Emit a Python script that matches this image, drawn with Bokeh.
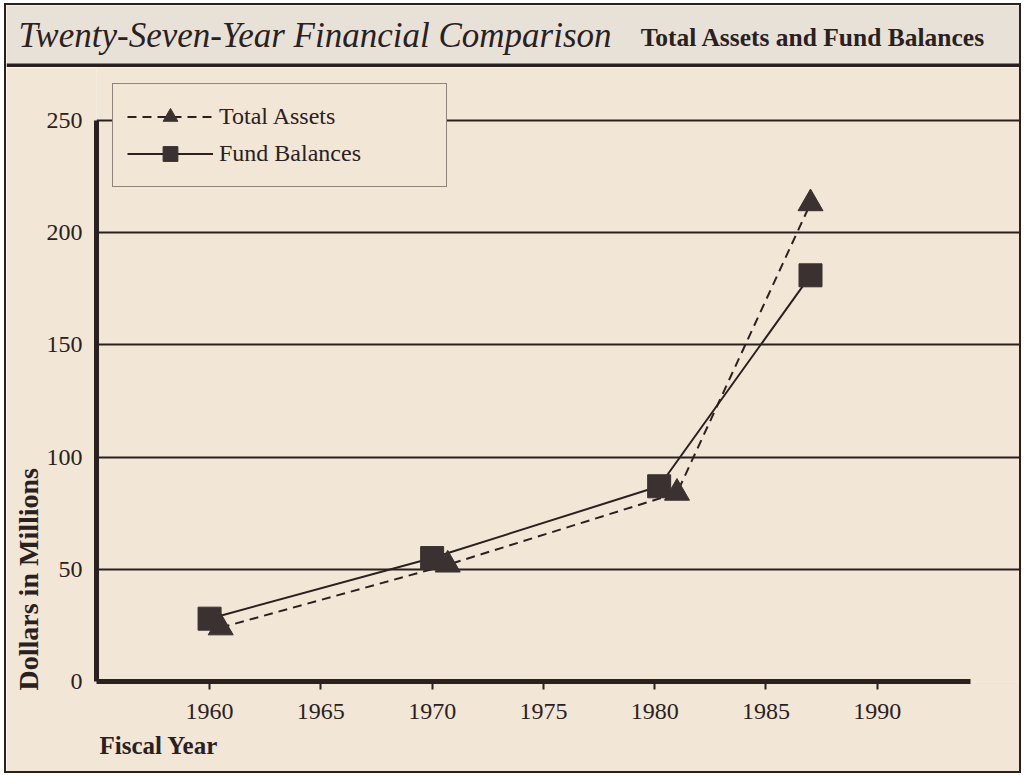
from bokeh.plotting import figure
from bokeh.layouts import column, row
from bokeh.models import Range1d, FixedTicker, Legend, LegendItem, BoxAnnotation, Label, Title
from bokeh.embed import file_html
from bokeh.resources import INLINE

# ---- data ----
years_fund = [1960, 1970, 1980.2, 1987]
fund_balances = [28, 55, 87, 181]
years_assets = [1960.5, 1970.7, 1981, 1987]
total_assets = [24, 52, 84, 213]
x_ticks = [1960, 1965, 1970, 1975, 1980, 1985, 1990]
y_ticks = [0, 50, 100, 150, 200, 250]
series_names = ["Total Assets", "Fund Balances"]
title_main = "Twenty-Seven-Year Financial Comparison"
title_sub = "Total Assets and Fund Balances"
x_label = "Fiscal Year"
y_label = "Dollars in Millions"

# ---- style ----
BG = "#f2e6d6"
BAND = "#e8e1d7"
INK = "#2a211f"
MARK = "#3a3130"
SERIF = "Liberation Serif"
W = 1013
TH = 62
H = 704

# ---- title band ----
tf = figure(width=W, height=TH, output_backend="svg", toolbar_location=None,
            x_range=Range1d(0, W), y_range=Range1d(0, TH),
            x_axis_type=None, y_axis_type=None,
            min_border_left=0, min_border_right=0, min_border_top=0, min_border_bottom=0,
            background_fill_color=BAND, border_fill_color=BAND)
tf.outline_line_color = None
tf.add_layout(BoxAnnotation(bottom=0, top=4, fill_color=INK, fill_alpha=1.0, line_color=None))
tf.add_layout(Label(x=12, y=32, text=title_main, text_font=SERIF, text_font_style="italic",
                    text_font_size="35px", text_color=INK, text_baseline="alphabetic",
                    text_align="left"))
tf.add_layout(Label(x=979, y=30, text=title_sub, text_font=SERIF, text_font_style="bold",
                    text_font_size="25.5px", text_color=INK, text_baseline="alphabetic",
                    text_align="right"))

# ---- main chart ----
p = figure(width=W, height=H, output_backend="svg", toolbar_location=None,
           x_range=Range1d(1954.92, 1996.39), y_range=Range1d(0, 273.6),
           min_border_left=90, min_border_right=0, min_border_top=0, min_border_bottom=90,
           background_fill_color=BG, border_fill_color=BG)
p.outline_line_color = None

xa = p.xaxis[0]
xa.ticker = FixedTicker(ticks=x_ticks)
xa.bounds = (1954.92, 1994.19)
xa.axis_line_color = INK
xa.axis_line_width = 5
xa.major_tick_out = 8
xa.major_tick_in = 0
xa.major_tick_line_color = INK
xa.major_tick_line_width = 2
xa.minor_tick_out = 0
xa.minor_tick_in = 0
xa.major_label_text_font = SERIF
xa.major_label_text_font_size = "24px"
xa.major_label_text_color = INK
xa.major_label_standoff = 14

ya = p.yaxis[0]
ya.ticker = FixedTicker(ticks=y_ticks)
ya.bounds = (0, 250)
ya.axis_line_color = INK
ya.axis_line_width = 5
ya.major_tick_out = 0
ya.major_tick_in = 0
ya.minor_tick_out = 0
ya.minor_tick_in = 0
ya.major_label_text_font = SERIF
ya.major_label_text_font_size = "24px"
ya.major_label_text_color = INK
ya.major_label_standoff = 14

# axis titles
p.add_layout(Title(text=x_label, align="left", offset=3, standoff=17,
                   text_font=SERIF, text_font_style="bold", text_font_size="25px",
                   text_color=INK), "below")
p.add_layout(Title(text=y_label, align="left", offset=-9, standoff=0,
                   text_font=SERIF, text_font_style="bold", text_font_size="28px",
                   text_color=INK), "left")

p.xgrid.grid_line_color = None
p.ygrid.ticker = FixedTicker(ticks=y_ticks)
p.ygrid.grid_line_color = INK
p.ygrid.grid_line_width = 1.8

# data marks
l_fund = p.line(years_fund, fund_balances, line_color=INK, line_width=2)
l_assets = p.line(years_assets, total_assets, line_color=INK, line_width=2, line_dash="9 6")
s_fund = p.scatter(years_fund, fund_balances, marker="square", size=23,
                   fill_color=MARK, line_color=MARK)
s_assets = p.scatter(years_assets, total_assets, marker="triangle", size=25,
                     fill_color=MARK, line_color=MARK)

legend = Legend(items=[LegendItem(label=series_names[0], renderers=[l_assets, s_assets]),
                       LegendItem(label=series_names[1], renderers=[l_fund, s_fund])],
                location="top_left", margin=16, padding=14, spacing=0,
                glyph_width=86, glyph_height=37, label_height=37, label_width=213,
                label_standoff=6, label_text_font=SERIF, label_text_font_size="24px",
                label_text_color=INK, border_line_color=INK, border_line_width=1.5,
                background_fill_color=BG, background_fill_alpha=1.0)
p.add_layout(legend)

layout = column(row(tf), p, spacing=0,
                styles={"border": "2px solid " + INK, "margin": "3px 0 0 4px"})

open("out.html", "w").write(file_html(layout, INLINE))
